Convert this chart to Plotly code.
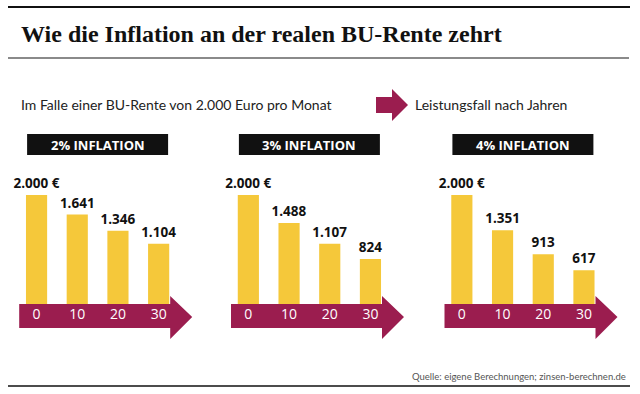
import plotly.graph_objects as go

W, H = 640, 394

years = ["0", "10", "20", "30"]
panel_titles = ["2% INFLATION", "3% INFLATION", "4% INFLATION"]
values_2 = [2000, 1641, 1346, 1104]
values_3 = [2000, 1488, 1107, 824]
values_4 = [2000, 1351, 913, 617]
series = [values_2, values_3, values_4]

title = "Wie die Inflation an der realen BU-Rente zehrt"
subtitle = "Im Falle einer BU-Rente von 2.000 Euro pro Monat"
legend_text = "Leistungsfall nach Jahren"
source = "Quelle: eigene Berechnungen; zinsen-berechnen.de"

YELLOW = "#F5C83A"
MAROON = "#9B1D4F"
BLACK = "#111111"
SANS = "Open Sans"


def px(x):
    return x / W


def py(y):
    return 1 - y / H


def fmt(v, first):
    s = f"{v:,}".replace(",", ".")
    return s + " €" if first else s


step = 40.7
starts = [16.2, 228.0, 441.5]
ybase, ytop_px = 304.0, 304.0 - 2400 * 109 / 2000

fig = go.Figure()
shapes = []
annotations = []
layout = {}

for i, (vals, ptitle, x0) in enumerate(zip(series, panel_titles, starts)):
    sfx = "" if i == 0 else str(i + 1)
    fig.add_trace(go.Bar(
        x=years, y=vals,
        xaxis="x" + sfx, yaxis="y" + sfx,
        marker=dict(color=YELLOW, line=dict(width=0)),
        width=0.52,
        text=[fmt(v, j == 0) for j, v in enumerate(vals)],
        textposition="outside",
        constraintext="none",
        textfont=dict(family=SANS, size=13.5, color=BLACK, weight="bold"),
        cliponaxis=False,
        hoverinfo="skip",
    ))
    x1 = x0 + 4 * step
    layout["xaxis" + sfx] = dict(
        domain=[px(x0), px(x1)], anchor="y" + sfx, type="category",
        range=[-0.5, 3.5], showgrid=False, zeroline=False, showline=False,
        ticks="", tickfont=dict(family=SANS, size=14, color="white"),
        ticklabelstandoff=0,
    )
    layout["yaxis" + sfx] = dict(
        domain=[py(ybase), py(ytop_px)], anchor="x" + sfx, range=[0, 2400],
        visible=False, showgrid=False, zeroline=False,
    )
    s0, hs, tip = x0 + 3, x0 + 154, x0 + 176
    path = (f"M {px(s0)},{py(304)} L {px(hs)},{py(304)} L {px(hs)},{py(296)} "
            f"L {px(tip)},{py(317)} L {px(hs)},{py(339)} L {px(hs)},{py(328)} "
            f"L {px(s0)},{py(328)} Z")
    shapes.append(dict(type="path", path=path, xref="paper", yref="paper",
                       fillcolor=MAROON, line=dict(width=0), layer="below"))
    cx = (x0 + x1) / 2
    shapes.append(dict(type="rect", xref="paper", yref="paper",
                       x0=px(cx - 70.5), x1=px(cx + 70.5), y0=py(155), y1=py(134),
                       fillcolor=BLACK, line=dict(width=0)))
    annotations.append(dict(text=ptitle, xref="paper", yref="paper",
                            x=px(cx), y=py(144.5), xanchor="center", yanchor="middle",
                            showarrow=False,
                            font=dict(family=SANS, size=13, color="white", weight="bold")))

shapes.append(dict(type="line", xref="paper", yref="paper", x0=px(8), x1=px(630),
                   y0=py(7), y1=py(7), line=dict(color=BLACK, width=2)))
shapes.append(dict(type="line", xref="paper", yref="paper", x0=px(8), x1=px(629),
                   y0=py(58), y1=py(58), line=dict(color="#8a8a8a", width=2)))
shapes.append(dict(type="line", xref="paper", yref="paper", x0=px(8), x1=px(630),
                   y0=py(386), y1=py(386), line=dict(color=BLACK, width=1.5)))
lp = (f"M {px(376)},{py(97)} L {px(392)},{py(97)} L {px(392)},{py(89)} "
      f"L {px(408)},{py(105)} L {px(392)},{py(121)} L {px(392)},{py(113)} "
      f"L {px(376)},{py(113)} Z")
shapes.append(dict(type="path", path=lp, xref="paper", yref="paper",
                   fillcolor=MAROON, line=dict(width=0)))

annotations += [
    dict(text=title, xref="paper", yref="paper", x=px(19), y=py(34),
         xanchor="left", yanchor="middle", showarrow=False,
         font=dict(family="Liberation Serif", size=24, color=BLACK, weight="bold")),
    dict(text=subtitle, xref="paper", yref="paper", x=px(19), y=py(104),
         xanchor="left", yanchor="middle", showarrow=False,
         font=dict(family="Lato", size=14, color="#222222")),
    dict(text=legend_text, xref="paper", yref="paper", x=px(413), y=py(104),
         xanchor="left", yanchor="middle", showarrow=False,
         font=dict(family="Lato", size=14, color="#222222")),
    dict(text=source, xref="paper", yref="paper", x=px(628), y=py(376),
         xanchor="right", yanchor="middle", showarrow=False,
         font=dict(family="Lato", size=9.5, color="#555555")),
]

fig.update_layout(
    width=W, height=H, margin=dict(l=0, r=0, t=0, b=0),
    paper_bgcolor="white", plot_bgcolor="rgba(0,0,0,0)",
    showlegend=False, shapes=shapes, annotations=annotations,
    bargap=0.48, **layout,
)

fig.write_html("out.html", config={"displayModeBar": False},
               post_script="document.body.style.margin='0';document.body.style.overflow='hidden';")
